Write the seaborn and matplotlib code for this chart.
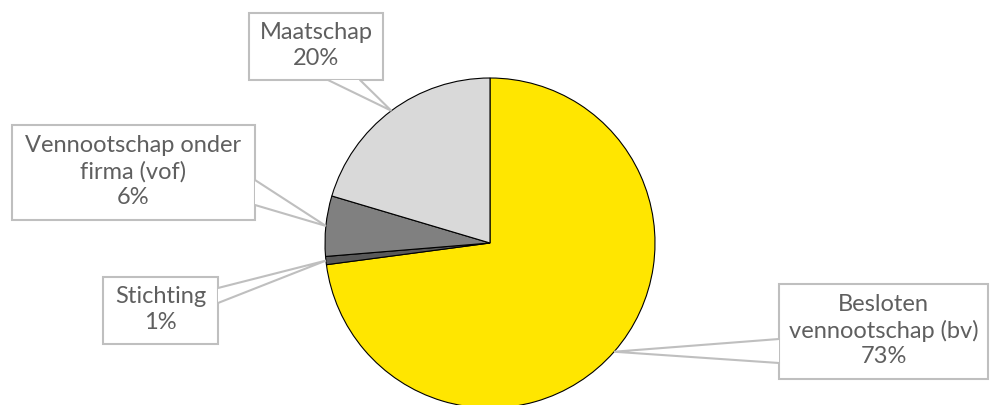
import numpy as np
import seaborn as sns
import matplotlib.pyplot as plt

sns.set_theme(style="white")
plt.rcParams['font.family'] = ['Lato', 'DejaVu Sans']

# Data
labels = ["Besloten\nvennootschap (bv)", "Stichting", "Vennootschap onder\nfirma (vof)", "Maatschap"]
shares = [72.9, 0.8, 5.9, 20.4]
colors = ["#FFE600", "#595959", "#808080", "#D9D9D9"]

# callout boxes in pixel coords (left, top, right, bottom) and wedge base (side, a, b)
boxes = [(779, 284, 988, 379), (103, 277, 218, 344), (12, 125, 255, 220), (249, 13, 383, 80)]
bases = [("left", 339, 363), ("right", 288, 303), ("right", 180, 205), ("bottom", 328, 360)]

W, H = 990, 405
cx, cy, r = 490, 243, 165

fig = plt.figure(figsize=(9.9, 4.05), dpi=100)
ax = fig.add_axes([0, 0, 1, 1])

def py(y):
    return H - y

wedges, _ = ax.pie(shares, colors=colors, startangle=90, counterclock=False,
                   center=(cx, py(cy)), radius=r, frame=True,
                   wedgeprops=dict(edgecolor="black", linewidth=0.8))
ax.set_xlim(0, W)
ax.set_ylim(0, H)
ax.set_axis_off()

grey = "#BFBFBF"
for w, lab, val, box, base in zip(wedges, labels, shares, boxes, bases):
    mid = np.deg2rad((w.theta1 + w.theta2) / 2)
    tip = (cx + r * np.cos(mid), py(cy) + r * np.sin(mid))
    l, t, rr, b = box
    ax.add_patch(plt.Rectangle((l, py(b)), rr - l, b - t, facecolor="white",
                               edgecolor=grey, linewidth=1.5, zorder=3))
    side, a1, a2 = base
    if side == "left":
        p1, p2 = (l, py(a1)), (l, py(a2))
    elif side == "right":
        p1, p2 = (rr, py(a1)), (rr, py(a2))
    else:
        p1, p2 = (a1, py(b)), (a2, py(b))
    ax.fill([p1[0], tip[0], p2[0]], [p1[1], tip[1], p2[1]], color="white", zorder=4, lw=0)
    ax.plot([p1[0], tip[0], p2[0]], [p1[1], tip[1], p2[1]], color=grey, lw=1.5, zorder=4,
            solid_joinstyle="miter")
    ax.text((l + rr) / 2, py((t + b) / 2) + 1, f"{lab}\n{round(val)}%", ha="center", va="center",
            fontsize=17, color="#5f5f5f", linespacing=1.28, zorder=5)

fig.savefig("out.png", dpi=100)
